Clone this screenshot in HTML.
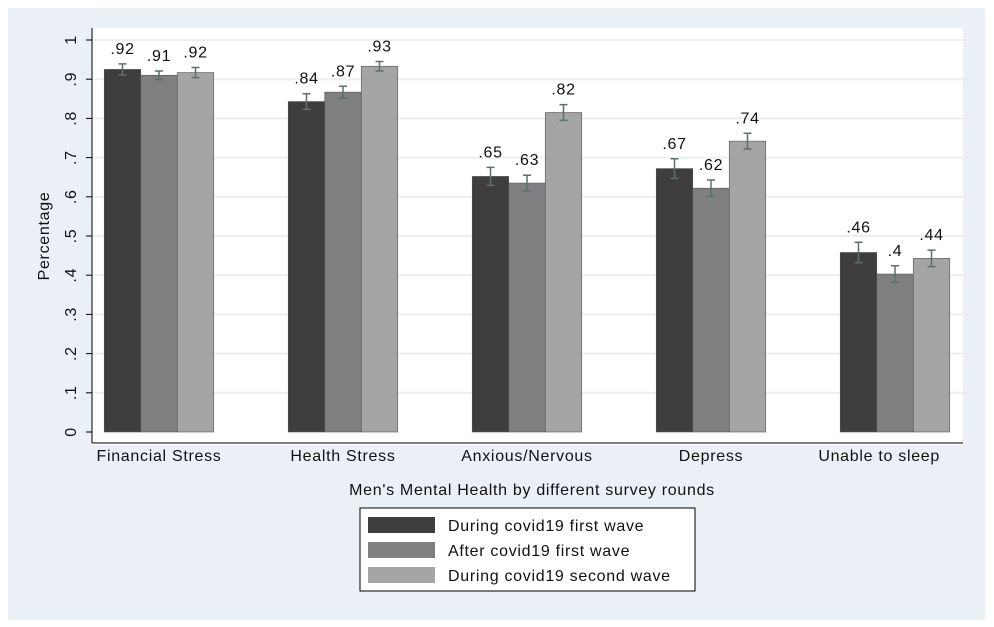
<!DOCTYPE html>
<html><head><meta charset="utf-8"><style>
body{margin:0;background:#fff;}
svg{display:block;font-family:"Liberation Sans",Arial,sans-serif;}
svg text{letter-spacing:0.7px;}
</style></head><body>
<svg id="chart" width="994" height="627" viewBox="0 0 994 627">
<rect x="0" y="0" width="994" height="627" fill="#ffffff"/>
<rect x="8" y="8" width="977" height="612" fill="#eaf0f6"/>
<rect x="92" y="28" width="871" height="417" fill="#ffffff"/>
<g id="grid"></g>
<g id="bars"></g>
<line x1="92" y1="28" x2="92" y2="443" stroke="#000" stroke-width="1"/>
<line x1="92" y1="443" x2="963" y2="443" stroke="#000" stroke-width="1"/>
<g id="yticks"></g>
<g id="xlabels"></g>
<text x="0" y="0" transform="translate(49,236) rotate(-90)" text-anchor="middle" font-size="16" fill="#111">Percentage</text>
<text x="532" y="495" text-anchor="middle" font-size="16" fill="#111">Men's Mental Health by different survey rounds</text>
<g>
<rect x="360" y="508" width="335" height="83" fill="#fff" stroke="#000" stroke-width="1"/>
<rect x="368" y="517" width="67" height="16" fill="#403d40"/>
<text x="448" y="531" font-size="16" fill="#111">During covid19 first wave</text>
<rect x="368" y="542" width="67" height="16" fill="#7f7e80"/>
<text x="448" y="556" font-size="16" fill="#111">After covid19 first wave</text>
<rect x="368" y="567" width="67" height="16" fill="#a5a4a6"/>
<text x="448" y="581" font-size="16" fill="#111">During covid19 second wave</text>
</g>
</svg>
<script>
const categories = ["Financial Stress","Health Stress","Anxious/Nervous","Depress","Unable to sleep"];
const seriesFirstWave = [0.925, 0.843, 0.652, 0.672, 0.458];
const seriesAfterFirst = [0.910, 0.867, 0.635, 0.622, 0.403];
const seriesSecondWave = [0.917, 0.933, 0.815, 0.742, 0.443];
const errFirstWave = [0.014, 0.020, 0.023, 0.025, 0.026];
const errAfterFirst = [0.011, 0.015, 0.020, 0.021, 0.021];
const errSecondWave = [0.013, 0.012, 0.020, 0.020, 0.021];
const labelsFirstWave = [".92",".84",".65",".67",".46"];
const labelsAfterFirst = [".91",".87",".63",".62",".4"];
const labelsSecondWave = [".92",".93",".82",".74",".44"];
const yTicks = [0,0.1,0.2,0.3,0.4,0.5,0.6,0.7,0.8,0.9,1];
const yTickLabels = ["0",".1",".2",".3",".4",".5",".6",".7",".8",".9","1"];

const NS="http://www.w3.org/2000/svg";
function y(v){return 432 - v*392;}
function xc(i){return 159 + i*184;}
const BW=36.5;
function mk(tag,attrs,parent){const e=document.createElementNS(NS,tag);for(const k in attrs)e.setAttribute(k,attrs[k]);parent.appendChild(e);return e;}
const grid=document.getElementById('grid'),bars=document.getElementById('bars'),yt=document.getElementById('yticks'),xl=document.getElementById('xlabels');
yTicks.forEach((t,i)=>{
  if(t>0){const g=mk('line',{x1:93,x2:963,y1:y(t),y2:y(t),stroke:'#eaeff4','stroke-width':2},grid);
  
  }
  const tk=mk('line',{x1:86,x2:92,y1:y(t),y2:y(t),stroke:'#000'},yt);
  
  
  const tx=mk('text',{transform:`translate(76,${y(t)}) rotate(-90)`,'text-anchor':'middle','font-size':16,fill:'#111'},yt);
  tx.textContent=yTickLabels[i];
  
  
});
const series=[[seriesFirstWave,errFirstWave,labelsFirstWave,'#403d40'],[seriesAfterFirst,errAfterFirst,labelsAfterFirst,'#7f7e80'],[seriesSecondWave,errSecondWave,labelsSecondWave,'#a5a4a6']];
categories.forEach((c,i)=>{
  const t=mk('text',{x:xc(i),y:461,'text-anchor':'middle','font-size':16,fill:'#111'},xl);
  t.textContent=c;
  
  
  const bb=t.getBBox();
  if(bb.x+bb.width>940){t.setAttribute('text-anchor','end');t.setAttribute('x',940);}
  series.forEach((s,j)=>{
    const v=s[0][i],e=s[1][i];
    const x0=xc(i)-1.5*BW+j*BW;
    const r=mk('rect',{x:x0,y:y(v),width:BW,height:432-y(v),fill:s[3],stroke:'#555','stroke-width':0.6},bars);
    
    
    const cx=x0+BW/2;
    const eb=mk('path',{d:`M${cx} ${y(v+e)}V${y(v-e)}M${cx-4} ${y(v+e)}H${cx+4}M${cx-4} ${y(v-e)}H${cx+4}`,stroke:'#5f6e6e','stroke-width':1.5,fill:'none'},bars);
    
    
    const lb=mk('text',{x:cx,y:y(v+e)-10,'text-anchor':'middle','font-size':16,fill:'#111'},bars);
    lb.textContent=s[2][i];
    
    
  });
});
</script>
</body></html>
